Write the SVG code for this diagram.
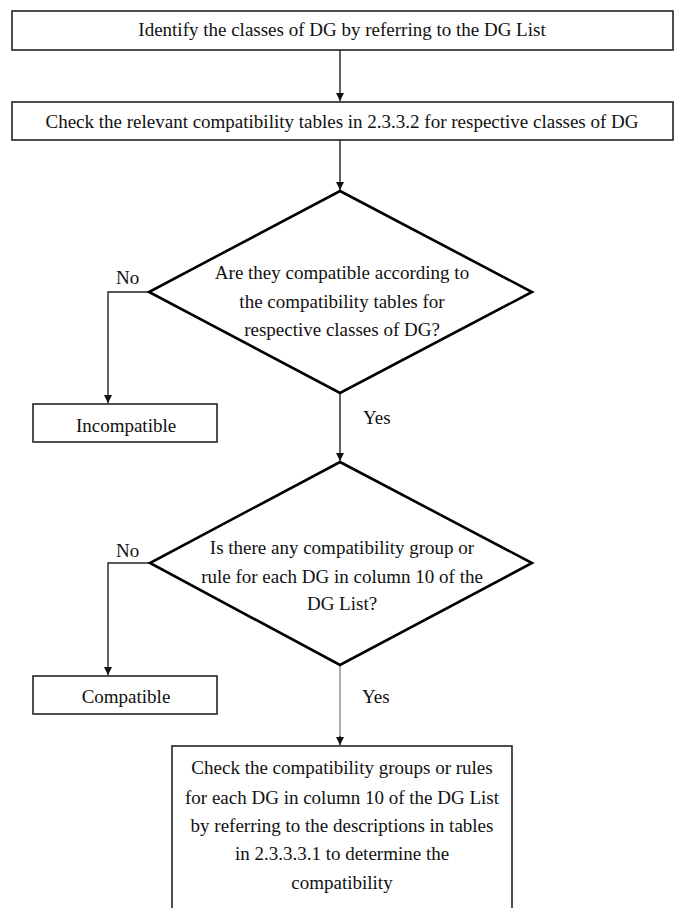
<svg xmlns="http://www.w3.org/2000/svg" width="679" height="908" viewBox="0 0 679 908">
<style>
  .box { fill: #fff; stroke: #222; stroke-width: 1.6; }
  .dia { fill: #fff; stroke: #000; stroke-width: 2.6; stroke-linejoin: miter; }
  .t { font-family: "Liberation Serif", "Times New Roman", serif; font-size: 19px; fill: #111; text-anchor: middle; }
  .lbl { font-family: "Liberation Serif", "Times New Roman", serif; font-size: 19px; fill: #111; }
  .c { fill: none; stroke: #222; stroke-width: 1.4; }
  .cg { fill: none; stroke: #999; stroke-width: 1.6; }
</style>
<defs>
  <marker id="ah" viewBox="0 0 10 10" refX="10" refY="5" markerWidth="8" markerHeight="8" markerUnits="userSpaceOnUse" orient="auto">
    <path d="M0,0 L10,5 L0,10 z" fill="#111"/>
  </marker>
</defs>
<rect width="679" height="908" fill="#fff"/>
<g id="connectors">
  <path class="c" d="M340,50 V101" marker-end="url(#ah)"/>
  <path class="c" d="M340,140 V190" marker-end="url(#ah)"/>
  <path class="c" d="M149,292 H108 V403" marker-end="url(#ah)"/>
  <path class="c" d="M340,393 V461" marker-end="url(#ah)"/>
  <path class="c" d="M150,563 H108 V675" marker-end="url(#ah)"/>
  <path class="cg" d="M340,665 V737"/>
  <path class="c" d="M340,736 V745" marker-end="url(#ah)"/>
</g>
<g id="n1">
  <rect class="box" x="12" y="11" width="661" height="39"/>
  <text class="t" x="342" y="36">Identify the classes of DG by referring to the DG List</text>
</g>
<g id="n2">
  <rect class="box" x="12" y="102" width="661" height="38"/>
  <text class="t" x="342" y="128">Check the relevant compatibility tables in 2.3.3.2 for respective classes of DG</text>
</g>
<g id="d1">
  <polygon class="dia" points="340,191 532,292 340,393 149,292"/>
  <text class="t" x="342" y="279">Are they compatible according to</text>
  <text class="t" x="342" y="308">the compatibility tables for</text>
  <text class="t" x="342" y="336">respective classes of DG?</text>
</g>
<g id="lblNo1"><text class="lbl" x="116" y="284">No</text></g>
<g id="n3">
  <rect class="box" x="33" y="404" width="184" height="38"/>
  <text class="t" x="126" y="432">Incompatible</text>
</g>
<g id="lblYes1"><text class="lbl" x="363" y="424">Yes</text></g>
<g id="d2">
  <polygon class="dia" points="340,462 532,563 340,665 150,563"/>
  <text class="t" x="342" y="554">Is there any compatibility group or</text>
  <text class="t" x="342" y="583">rule for each DG in column 10 of the</text>
  <text class="t" x="342" y="610">DG List?</text>
</g>
<g id="lblNo2"><text class="lbl" x="116" y="557">No</text></g>
<g id="n4">
  <rect class="box" x="33" y="676" width="184" height="38"/>
  <text class="t" x="126" y="703">Compatible</text>
</g>
<g id="lblYes2"><text class="lbl" x="362" y="703">Yes</text></g>
<g id="n5">
  <rect class="box" x="172" y="746" width="340" height="180"/>
  <text class="t" x="342" y="774">Check the compatibility groups or rules</text>
  <text class="t" x="342" y="804">for each DG in column 10 of the DG List</text>
  <text class="t" x="342" y="832">by referring to the descriptions in tables</text>
  <text class="t" x="342" y="860">in 2.3.3.3.1 to determine the</text>
  <text class="t" x="342" y="889">compatibility</text>
</g>
</svg>
